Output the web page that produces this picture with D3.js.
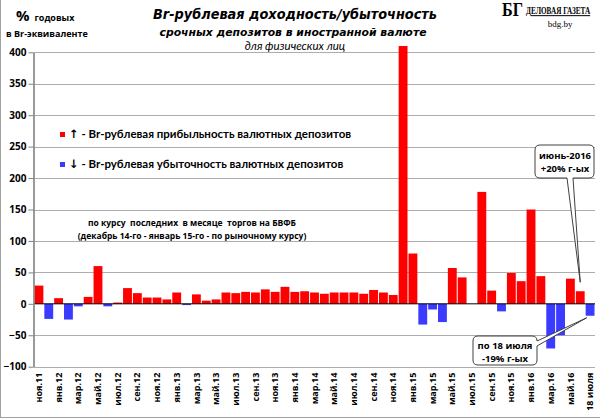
<!DOCTYPE html>
<html>
<head>
<meta charset="utf-8">
<script src="https://cdn.jsdelivr.net/npm/d3@7"></script>
<style>
  body { margin: 0; background: #fff; }
  svg { display: block; font-family: "Open Sans", sans-serif; }
</style>
</head>
<body>
<div id="chart"></div>
<script>

var w = 600, h = 420;

// months, ноя.11 .. 18 июля 2016
var months = ['ноя.11','дек.11','янв.12','фев.12','мар.12','апр.12','май.12','июн.12','июл.12','авг.12','сен.12','окт.12',
  'ноя.12','дек.12','янв.13','фев.13','мар.13','апр.13','май.13','июн.13','июл.13','авг.13','сен.13','окт.13',
  'ноя.13','дек.13','янв.14','фев.14','мар.14','апр.14','май.14','июн.14','июл.14','авг.14','сен.14','окт.14',
  'ноя.14','дек.14','янв.15','фев.15','мар.15','апр.15','май.15','июн.15','июл.15','авг.15','сен.15','окт.15',
  'ноя.15','дек.15','янв.16','фев.16','мар.16','апр.16','май.16','июн.16','18 июля'];

// % годовых в Br-эквиваленте
var values = [29, -24, 9, -25, -4, 11, 60, -4, 2, 25, 17, 10,
  10, 7, 18, -2, 15, 5, 7, 18, 17, 19, 18, 23,
  19, 27, 19, 20, 18, 16, 18, 18, 18, 16, 22, 18,
  14, 410, 80, -33, -9, -29, 57, 42, 0, 178, 21, -12,
  49, 36, 150, 44, -71, -50, 40, 20, -19];

var yTicks = [-100, -50, 0, 50, 100, 150, 200, 250, 300, 350, 400];

var red = '#ff0000', blue = '#3b3bff';

var svg = d3.select('#chart')
  .append('svg')
  .attr('width', w)
  .attr('height', h);

// frame lines (left + bottom)
svg.append('line').attr('x1', 0.5).attr('x2', 0.5).attr('y1', 0).attr('y2', 418)
  .attr('stroke', '#a0a0a0');
svg.append('line').attr('x1', 0).attr('x2', w).attr('y1', 417.5).attr('y2', 417.5)
  .attr('stroke', '#a0a0a0');

var x = d3.scaleBand()
  .domain(months)
  .range([34, 595])
  .paddingInner(0.1)
  .paddingOuter(0.05);

var y = d3.scaleLinear()
  .domain([-100, 400])
  .range([366.7, 52.3]);

// grid
svg.append('g')
  .selectAll('line')
  .data(yTicks.filter(function(d) { return d != 0; }))
  .enter().append('line')
  .attr('x1', 34).attr('x2', 595)
  .attr('y1', function(d) { return Math.round(y(d)) + 0.5; })
  .attr('y2', function(d) { return Math.round(y(d)) + 0.5; })
  .attr('stroke', '#adadad')
  .attr('stroke-width', 1.2);

// bars
svg.append('g')
  .selectAll('rect')
  .data(values)
  .enter().append('rect')
  .attr('x', function(d, i) { return x(months[i]); })
  .attr('width', x.bandwidth())
  .attr('y', function(d) { return d >= 0 ? y(d) : y(0); })
  .attr('height', function(d) { return Math.abs(y(d) - y(0)); })
  .attr('fill', function(d) { return d >= 0 ? red : blue; });

// zero line
svg.append('line')
  .attr('x1', 34).attr('x2', 595)
  .attr('y1', y(0)).attr('y2', y(0))
  .attr('stroke', '#000')
  .attr('stroke-width', 1);

// y axis
var yAxis = svg.append('g')
  .attr('transform', 'translate(33.5,0)')
  .call(d3.axisLeft(y).tickValues(yTicks).tickSize(5).tickSizeOuter(0));
yAxis.select('.domain').attr('stroke', '#808080').attr('stroke-width', 1.6);
yAxis.selectAll('.tick line').attr('stroke', '#808080');
yAxis.selectAll('.tick text')
  .attr('font-family', '"Open Sans", sans-serif')
  .attr('font-size', 10)
  .attr('font-weight', 'bold')
  .attr('fill', '#000')
  .attr('x', -7);

// x axis labels (every 2nd month + last)
var xTickVals = months.filter(function(d, i) { return i % 2 == 0 || i == months.length - 1; });
var xAxis = svg.append('g')
  .attr('transform', 'translate(0,' + y(-100) + ')')
  .call(d3.axisBottom(x).tickValues(xTickVals).tickSize(0));
xAxis.select('.domain').remove();
xAxis.selectAll('.tick text')
  .attr('font-family', '"Open Sans", sans-serif')
  .attr('font-size', 9)
  .attr('font-weight', 'bold')
  .attr('fill', '#000')
  .attr('text-anchor', 'end')
  .attr('transform', 'rotate(-90)')
  .attr('x', -6)
  .attr('y', 0)
  .attr('dy', '0.35em');

// titles
svg.append('text').attr('x', 295).attr('y', 19)
  .attr('text-anchor', 'middle')
  .attr('font-family', '"DejaVu Sans", sans-serif')
  .attr('font-size', 13.5).attr('font-weight', 'bold').attr('font-style', 'italic')
  .attr('textLength', 284).attr('lengthAdjust', 'spacingAndGlyphs')
  .text('Br-рублевая доходность/убыточность');
svg.append('text').attr('x', 293).attr('y', 36)
  .attr('text-anchor', 'middle')
  .attr('font-family', '"DejaVu Sans", sans-serif')
  .attr('font-size', 10.5).attr('font-weight', 'bold').attr('font-style', 'italic')
  .attr('textLength', 267).attr('lengthAdjust', 'spacingAndGlyphs')
  .text('срочных депозитов в иностранной валюте');
svg.append('text').attr('x', 295).attr('y', 50)
  .attr('text-anchor', 'middle')
  .attr('font-family', 'Lato, sans-serif')
  .attr('font-size', 11.5).attr('font-style', 'italic')
  .text('для физических лиц');

// units
var unit = svg.append('text').attr('x', 16).attr('y', 21)
  .attr('font-family', '"Open Sans", sans-serif').attr('font-weight', 'bold');
unit.append('tspan').attr('font-size', 15).text('%');
unit.append('tspan').attr('font-size', 9).attr('dx', 5).text('годовых');
svg.append('text').attr('x', 6).attr('y', 37)
  .attr('font-family', '"Open Sans", sans-serif')
  .attr('font-size', 9).attr('font-weight', 'bold')
  .text('в Br-эквиваленте');

// logo
svg.append('text').attr('x', 502).attr('y', 16)
  .attr('font-family', '"Liberation Serif", serif')
  .attr('font-size', 19).attr('font-weight', 'bold')
  .attr('textLength', 21).attr('lengthAdjust', 'spacingAndGlyphs')
  .text('БГ');
svg.append('g')
  .attr('transform', 'translate(526,14) scale(0.72,1)')
  .append('text')
  .attr('font-family', '"Liberation Serif", serif')
  .attr('font-size', 10).attr('font-weight', 'bold')
  .attr('text-decoration', 'underline')
  .text('ДЕЛОВАЯ ГАЗЕТА');
svg.append('text').attr('x', 560).attr('y', 27)
  .attr('text-anchor', 'middle')
  .attr('font-family', '"Liberation Serif", serif')
  .attr('font-size', 9)
  .text('bdg.by');

// legend
var legend = [
  { color: red, arrow: '↑', label: ' - Br-рублевая прибыльность валютных депозитов', y: 138 },
  { color: blue, arrow: '↓', label: ' - Br-рублевая убыточность валютных депозитов', y: 168 }
];
legend.forEach(function(l) {
  svg.append('rect').attr('x', 60).attr('y', l.y - 6).attr('width', 5).attr('height', 5)
    .attr('fill', l.color);
  var t = svg.append('text').attr('x', 69).attr('y', l.y)
    .attr('font-family', 'Lato, sans-serif')
    .attr('font-size', 11.5).attr('font-weight', 'bold');
  t.append('tspan').attr('font-family', '"DejaVu Sans", sans-serif').text(l.arrow);
  t.append('tspan').text(l.label);
});

// note
svg.append('text').attr('x', 192).attr('y', 226)
  .attr('text-anchor', 'middle')
  .attr('font-family', '"Open Sans", sans-serif')
  .attr('font-size', 8.5).attr('font-weight', 'bold')
  .attr('xml:space', 'preserve')
  .text('по курсу  последних  в месяце  торгов на БВФБ');
svg.append('text').attr('x', 192).attr('y', 239)
  .attr('text-anchor', 'middle')
  .attr('font-family', '"Open Sans", sans-serif')
  .attr('font-size', 8.5).attr('font-weight', 'bold')
  .text('(декабрь 14-го - январь 15-го - по рыночному курсу)');

// callouts
function callout(x0, y0, x1, y1, side, a, b, px, py) {
  var r = 5, p = d3.path();
  p.moveTo(x0 + r, y0);
  p.lineTo(x1 - r, y0);
  p.quadraticCurveTo(x1, y0, x1, y0 + r);
  if (side == 'right') { p.lineTo(x1, a); p.lineTo(px, py); p.lineTo(x1, b); }
  p.lineTo(x1, y1 - r);
  p.quadraticCurveTo(x1, y1, x1 - r, y1);
  if (side == 'bottom') { p.lineTo(b, y1); p.lineTo(px, py); p.lineTo(a, y1); }
  p.lineTo(x0 + r, y1);
  p.quadraticCurveTo(x0, y1, x0, y1 - r);
  p.lineTo(x0, y0 + r);
  p.quadraticCurveTo(x0, y0, x0 + r, y0);
  p.closePath();
  svg.append('path').attr('d', p.toString())
    .attr('fill', '#fff').attr('stroke', '#404040').attr('stroke-width', 1);
}
function calloutText(cx, y, lines) {
  lines.forEach(function(s, i) {
    svg.append('text').attr('x', cx).attr('y', y + i * 13)
      .attr('text-anchor', 'middle')
      .attr('font-family', '"Open Sans", sans-serif')
      .attr('font-size', 9.5).attr('font-weight', 'bold')
      .text(s);
  });
}

var jun = months.length - 2, jul = months.length - 1;
callout(535, 145, 594, 178, 'bottom', 567, 573,
  x(months[jun]) + x.bandwidth() / 2, y(values[jun]) - 9);
calloutText(565, 159, ['июнь-2016', '+20% г-ых']);

callout(473, 336, 537, 365, 'right', 341, 346,
  x(months[jul]) + 1, y(values[jul]) + 2);
calloutText(505, 349, ['по 18 июля', '-19% г-ых']);

</script>
</body>
</html>
